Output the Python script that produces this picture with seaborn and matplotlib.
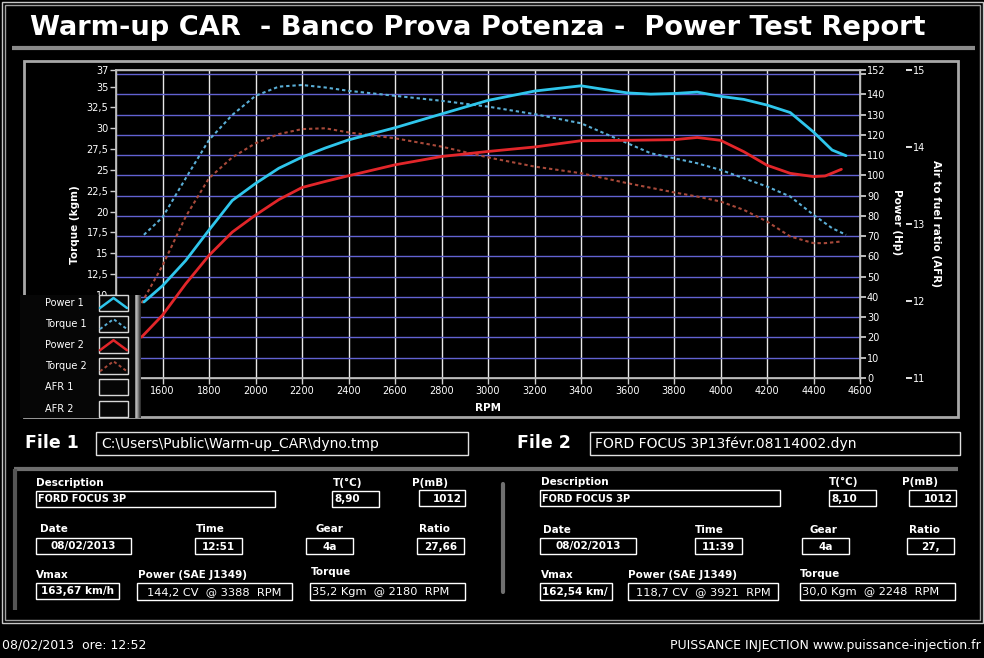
import matplotlib
matplotlib.use("Agg")
import matplotlib.pyplot as plt
import seaborn as sns
import pandas as pd
import numpy as np
from matplotlib.patches import Rectangle
from matplotlib.ticker import FixedLocator

# dati (file 1 = azzurro, file 2 = rosso)
rpm_1 = [1520, 1600, 1700, 1800, 1900, 2000, 2100, 2200, 2300, 2400, 2600, 2800, 3000, 3200,
         3400, 3500, 3600, 3700, 3800, 3900, 4000, 4100, 4200, 4300, 4400, 4480, 4540]
power_1 = [37.5, 45.5, 58, 73, 87.6, 96, 103.5, 109, 113.5, 117.5, 123.5, 130.3, 137, 141.6,
           144.2, 142.4, 140.7, 140.1, 140.4, 141.1, 139, 137.5, 134.7, 131, 121.4, 112.5, 109.7]
torque_1 = [17.2, 19.3, 24.0, 28.6, 31.6, 33.9, 35.0, 35.2, 34.9, 34.5, 33.9, 33.3, 32.6, 31.7,
            30.6, 29.4, 28.2, 27.0, 26.4, 25.8, 25.0, 24.0, 23.0, 21.8, 19.6, 18.0, 17.2]

rpm_2 = [1510, 1600, 1700, 1800, 1900, 2000, 2100, 2200, 2300, 2400, 2600, 2800, 3000, 3200,
         3400, 3600, 3800, 3900, 4000, 4100, 4200, 4300, 4400, 4450, 4520]
power_2 = [20.2, 31, 46.5, 60.5, 72, 80.4, 88, 94, 97, 99.8, 105.2, 109.3, 111.8, 114,
           117.1, 117.3, 117.6, 118.7, 117.3, 111.7, 105, 101, 99.4, 99.7, 103]
torque_2 = [9.0, 13.5, 19.4, 24.0, 26.5, 28.2, 29.3, 29.9, 30.0, 29.5, 28.8, 27.8, 26.5, 25.4,
            24.6, 23.4, 22.3, 21.8, 21.2, 20.2, 18.8, 17.0, 16.2, 16.2, 16.4]

rpm_ticks = list(range(1600, 4601, 200))
torque_ticks = [0, 2.5, 5, 7.5, 10, 12.5, 15, 17.5, 20, 22.5, 25, 27.5, 30, 32.5, 35, 37]
power_ticks = [0, 10, 20, 30, 40, 50, 60, 70, 80, 90, 100, 110, 120, 130, 140, 150, 152]
power_grid = [10, 20, 30, 40, 50, 60, 70, 80, 90, 100, 110, 120, 130, 140, 150]
afr_ticks = [11, 12, 13, 14, 15]

legend_names = ['Power 1', 'Torque 1', 'Power 2', 'Torque 2', 'AFR 1', 'AFR 2']

c_pow1, c_tq1 = '#2fc6ec', '#5aaed6'
c_pow2, c_tq2 = '#e2262a', '#a8493a'
dotted = (0, (1.6, 1.4))

df1 = pd.DataFrame({'rpm': rpm_1, 'power': power_1, 'torque': torque_1})
df2 = pd.DataFrame({'rpm': rpm_2, 'power': power_2, 'torque': torque_2})

sns.set_theme(style='dark', rc={'axes.facecolor': 'black', 'figure.facecolor': 'black'})
plt.rcParams['font.family'] = ['DejaVu Sans']

W, H = 984, 658
fig = plt.figure(figsize=(W / 100, H / 100), dpi=100, facecolor='black')


def px_axes(x0, y0, x1, y1, z):
    return fig.add_axes([x0 / W, 1 - y1 / H, (x1 - x0) / W, (y1 - y0) / H], zorder=z)


bg = px_axes(0, 0, W, H, 0)
bg.set_xlim(0, W)
bg.set_ylim(H, 0)
bg.axis('off')

# cornice esterna (doppia) e titolo
bg.add_patch(Rectangle((1.5, 1.5), 981, 621, fill=False, edgecolor='#c8c8c8', lw=1))
bg.add_patch(Rectangle((4.5, 4.5), 975, 615, fill=False, edgecolor='#a0a0a0', lw=1))
title = bg.text(30, 28, 'Warm-up CAR  - Banco Prova Potenza -  Power Test Report',
                color='white', fontsize=20, weight='bold', va='center', ha='left')
renderer = fig.canvas.get_renderer()
tw = title.get_window_extent(renderer).width
title.set_fontsize(20 * 895 / tw)
bg.plot([12, 975], [48, 48], color='#8a8a8a', lw=3, solid_capstyle='butt')

# pannello grafico
bg.add_patch(Rectangle((24, 61), 934, 356, fill=False, edgecolor='#a8a8a8', lw=2))

# grafico principale
ax = px_axes(116, 70, 860, 378, 2)
ax.set_facecolor('black')
sns.lineplot(data=df1, x='rpm', y='torque', ax=ax, color=c_tq1, lw=1.5, linestyle=dotted)
sns.lineplot(data=df2, x='rpm', y='torque', ax=ax, color=c_tq2, lw=1.5, linestyle=dotted)
ax.set_xlim(1400, 4600)
ax.set_ylim(0, 37)
ax.set_xticks(rpm_ticks)
ax.set_yticks(torque_ticks, labels=[f'{v:g}'.replace('.', ',') for v in torque_ticks])
ax.yaxis.set_minor_locator(FixedLocator([p * 37 / 152 for p in power_grid]))
ax.grid(False)
ax.grid(which='major', axis='x', color='#e8e8e8', lw=1)
ax.grid(which='minor', axis='y', color='#6262d2', lw=1)
ax.set_axisbelow(True)
ax.tick_params(which='major', axis='both', colors='#d0d0d0', labelcolor='white', labelsize=7,
               length=4, width=1, direction='out', bottom=True, left=True, pad=1.5)
ax.tick_params(which='minor', length=0)
for s in ax.spines.values():
    s.set_color('#bdbdbd')
    s.set_linewidth(1)
ax.set_xlabel('RPM', color='white', fontsize=7.5, weight='bold', va='center')
ax.xaxis.set_label_coords(0.5, (378 - 408) / 308)
ax.set_ylabel('Torque (kgm)', color='white', fontsize=7.5, weight='bold', va='center')
ax.yaxis.set_label_coords((75 - 116) / 744, (378 - 225) / 308)

ax2 = ax.twinx()
ax2.set_zorder(3)
sns.lineplot(data=df1, x='rpm', y='power', ax=ax2, color=c_pow1, lw=2)
sns.lineplot(data=df2, x='rpm', y='power', ax=ax2, color=c_pow2, lw=2)
ax2.set_ylim(0, 152)
ax2.set_yticks(power_ticks, labels=[str(p) if p != 150 else '' for p in power_ticks])
ax2.grid(False)
ax2.tick_params(axis='y', colors='#d0d0d0', labelcolor='white', labelsize=7, length=4,
                direction='out', right=True, pad=1)
for s in ax2.spines.values():
    s.set_color('#bdbdbd')
ax2.set_ylabel('Power (Hp)', color='white', fontsize=7.5, weight='bold', rotation=270,
               va='center')
ax2.yaxis.set_label_coords((897 - 116) / 744, (378 - 222) / 308)

ax3 = ax.twinx()
ax3.set_zorder(3)
ax3.spines['right'].set_position(('axes', (906 - 116) / 744))
for s in ax3.spines.values():
    s.set_visible(False)
ax3.set_ylim(11, 15)
ax3.set_yticks(afr_ticks)
ax3.grid(False)
ax3.tick_params(axis='y', colors='white', labelcolor='white', labelsize=7, length=4,
                direction='out', right=True, pad=1)
ax3.set_ylabel('Air to fuel ratio (AFR)', color='white', fontsize=7.5, weight='bold',
               rotation=270, va='center')
ax3.yaxis.set_label_coords((936 - 116) / 744, (378 - 223) / 308)

# legenda sovrapposta
fg = px_axes(0, 0, W, H, 5)
fg.patch.set_visible(False)
fg.add_patch(Rectangle((20, 295), 115, 123, facecolor='#060606', edgecolor='none'))
grad = np.array([[0.15, 0.35, 0.55, 0.7, 0.6, 0.45, 0.3, 0.2]])
fg.imshow(grad, cmap='gray', vmin=0, vmax=1, extent=(133, 141, 418, 295), aspect='auto')
styles = [(c_pow1, '-', 1.8), (c_tq1, dotted, 1.4), (c_pow2, '-', 1.8), (c_tq2, dotted, 1.4),
          (None, None, 0), (None, None, 0)]
for i, name in enumerate(legend_names):
    y = 303 + 21.1 * i
    fg.text(45, y, name, color='white', fontsize=7, va='center', ha='left')
    fg.add_patch(Rectangle((99, y - 8), 29, 16, fill=False, edgecolor='#d8d8d8', lw=1))
    col, ls, lw = styles[i]
    if col:
        fg.plot([100, 113.5, 127], [y + 5, y - 5, y + 5], color=col, ls=ls, lw=lw)
fg.set_xlim(0, W)
fg.set_ylim(H, 0)
fg.axis('off')

# intestazioni file
bg.text(25, 443, 'File 1', color='white', fontsize=12.5, weight='bold', va='center')
bg.add_patch(Rectangle((96, 432), 372, 23, fill=False, edgecolor='#e0e0e0', lw=1))
bg.text(101, 443.5, r'C:\Users\Public\Warm-up_CAR\dyno.tmp', color='white', fontsize=10,
        va='center')
bg.text(517, 443, 'File 2', color='white', fontsize=12.5, weight='bold', va='center')
bg.add_patch(Rectangle((590, 432), 370, 23, fill=False, edgecolor='#e0e0e0', lw=1))
bg.text(595, 443.5, 'FORD FOCUS 3P13févr.08114002.dyn', color='white', fontsize=10,
        va='center')

# pannello dati (bordo in rilievo sopra e a sinistra)
bg.plot([14, 958], [469, 469], color='#6e6e6e', lw=3, solid_capstyle='butt')
bg.plot([15, 15], [469, 610], color='#555555', lw=3, solid_capstyle='butt')
bg.plot([503, 503], [484, 592], color='#707070', lw=3)


def field(label, lx, ly, box, value, align='center', size=7.5, weight='bold'):
    x0, y0, x1, y1 = box
    bg.text(lx, ly, label, color='white', fontsize=7.5, weight='bold', va='center')
    bg.add_patch(Rectangle((x0, y0), x1 - x0, y1 - y0, fill=False, edgecolor='white', lw=1))
    if align == 'left':
        tx = x0 + 2
    elif align == 'right':
        tx = x1 - 3
    else:
        tx = (x0 + x1) / 2
    bg.text(tx, (y0 + y1) / 2 + 0.5, value, color='white', fontsize=size, weight=weight,
            va='center', ha=align)


for dx, vals in [(0, ['8,90', '12:51', '27,66', '163,67 km/h', '144,2 CV  @ 3388  RPM',
                      '35,2 Kgm  @ 2180  RPM']),
                 (1, ['8,10', '11:39', '27,', '162,54 km/', '118,7 CV  @ 3921  RPM',
                      '30,0 Kgm  @ 2248  RPM'])]:
    if dx == 0:
        field('Description', 36, 483, (36, 491, 275, 507), 'FORD FOCUS 3P', 'left', 7)
        field('T(°C)', 333, 483, (332, 491, 379, 507), vals[0], 'left')
        field('P(mB)', 412, 483, (419, 490, 465, 506), '1012', 'right')
        field('Date', 40, 529, (36, 538, 131, 554), '08/02/2013')
        field('Time', 196, 529, (195, 538, 242, 554), vals[1])
        field('Gear', 316, 529, (306, 538, 353, 554), '4a')
        field('Ratio', 419, 529, (417, 538, 464, 554), vals[2])
        field('Vmax', 36, 575, (36, 583, 119, 599), vals[3])
        field('Power (SAE J1349)', 138, 575, (137, 583, 292, 600), vals[4], size=8.2,
              weight='normal')
        field('Torque', 311, 572, (310, 583, 465, 600), vals[5], 'left', 8.2, 'normal')
    else:
        field('Description', 541, 482, (540, 490, 780, 506), 'FORD FOCUS 3P', 'left', 7)
        field('T(°C)', 829, 482, (829, 490, 876, 506), vals[0], 'left')
        field('P(mB)', 902, 482, (909, 490, 956, 506), '1012', 'right')
        field('Date', 543, 530, (540, 538, 636, 554), '08/02/2013')
        field('Time', 695, 530, (695, 538, 742, 554), vals[1])
        field('Gear', 810, 530, (802, 538, 849, 554), '4a')
        field('Ratio', 909, 530, (907, 538, 954, 554), vals[2])
        field('Vmax', 541, 575, (540, 583, 612, 600), vals[3], 'left')
        field('Power (SAE J1349)', 628, 575, (628, 583, 778, 600), vals[4], size=8.2,
              weight='normal')
        field('Torque', 800, 574, (800, 583, 955, 600), vals[5], 'left', 8.2, 'normal')

# piè di pagina
bg.text(2, 645, '08/02/2013  ore: 12:52', color='white', fontsize=9, va='center')
bg.text(981, 645, 'PUISSANCE INJECTION www.puissance-injection.fr', color='white',
        fontsize=9, va='center', ha='right')

fig.savefig('out.png', dpi=100, facecolor='black')
